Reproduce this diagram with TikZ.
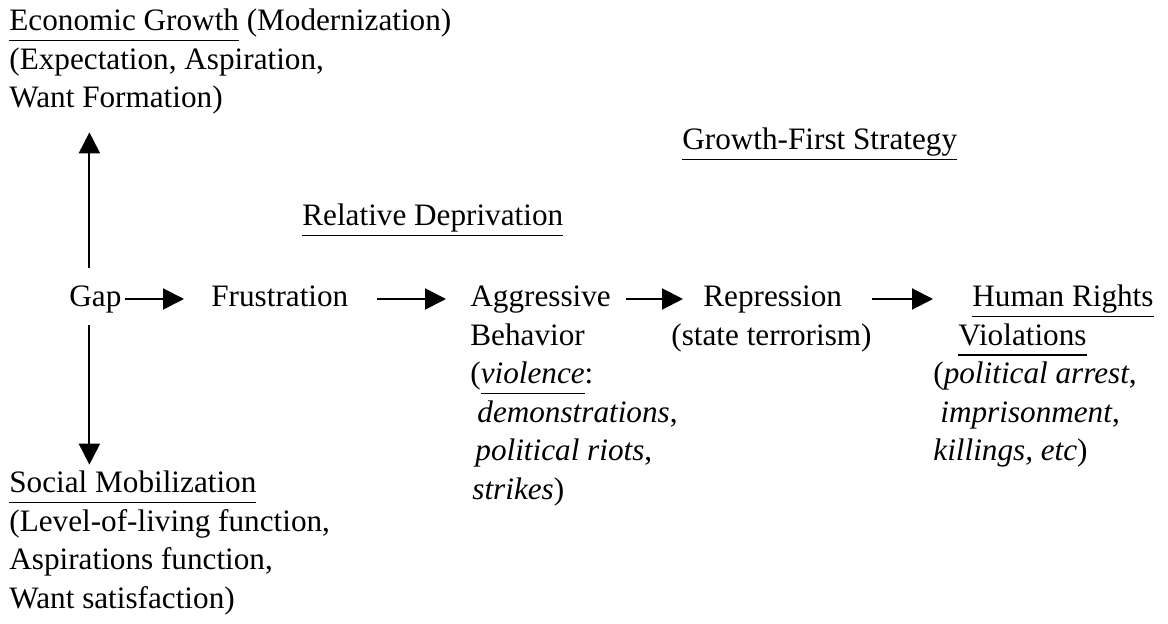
\documentclass[tikz,border=0pt]{standalone}
\usepackage{fontspec}
\setmainfont{Liberation Serif}
\usetikzlibrary{arrows.meta}

\newsavebox\ulbox
\newcommand\undl[1]{\sbox\ulbox{#1}\rlap{\rule[-5.2pt]{\wd\ulbox}{0.9pt}}\usebox\ulbox}
\newcommand\txtblock[1]{\begin{tabular}[t]{@{}l@{}}#1\end{tabular}}

\tikzset{
  txt/.style={inner sep=0pt, anchor=base west, font=\fontsize{15.6}{19.25}\selectfont},
  arr/.style={line width=1pt, -{Triangle[length=10.5pt,width=10.5pt]}}
}

\begin{document}
\begin{tikzpicture}[x=0.5pt, y=-0.5pt]
    \useasboundingbox (0,0) rectangle (1168,624);

    % Left column
    \node[txt] (econ) at (9,31) {\txtblock{\undl{Economic Growth} (Modernization)\\(Expectation, Aspiration,\\Want Formation)}};
    \node[txt] (gap) at (69,307) {Gap};
    \node[txt] (soc) at (9,493) {\txtblock{\undl{Social Mobilization}\\(Level-of-living function,\\Aspirations function,\\Want satisfaction)}};

    % Headings
    \node[txt] (growth) at (682,150) {\undl{Growth-First Strategy}};
    \node[txt] (depr) at (302,226) {\undl{Relative Deprivation}};

    % Main chain
    \node[txt] (frus) at (211,307) {Frustration};
    \node[txt] (aggr) at (470,307) {Aggressive};
    \node[txt] (repr) at (703,307) {Repression};
    \node[txt] (hr) at (972,307) {\undl{Human Rights}};

    % Details under the chain
    \node[txt] (aggrd) at (470,345.5) {\txtblock{Behavior\\(\undl{\textit{violence}}:\\\hspace{3.5pt}\textit{demonstrations},\\\hspace{2.5pt}\textit{political riots},\\\hspace{1pt}\textit{strikes})}};
    \node[txt] (reprd) at (671,345.5) {(state terrorism)};
    \node[txt] (hrd) at (933,345.5) {\txtblock{\hspace{12.5pt}\undl{Violations}\\(\textit{political arrest},\\\hspace{3.5pt}\textit{imprisonment},\\\textit{killings, etc})}};

    % Vertical arrows
    \draw[arr, shorten >=6.2pt] ([xshift=-3pt,yshift=9pt]gap.north) -- ([xshift=-3pt]gap.north |- econ.south);
    \draw[arr, shorten >=0.5pt] ([xshift=-3pt,yshift=-5.5pt]gap.south) -- ([xshift=-3pt]gap.south |- soc.north);

    % Horizontal arrows
    \draw[arr, shorten <=1.5pt, shorten >=13.5pt] ([yshift=4pt]gap.base east) -- ([yshift=4pt]frus.base west);
    \draw[arr, shorten <=14pt, shorten >=12pt] ([yshift=4pt]frus.base east) -- ([yshift=4pt]aggr.base west);
    \draw[arr, shorten <=7.5pt, shorten >=10pt] ([yshift=4pt]aggr.base east) -- ([yshift=4pt]repr.base west);
    \draw[arr, shorten <=15pt, shorten >=19.5pt] ([yshift=4pt]repr.base east) -- ([yshift=4pt]hr.base west);
\end{tikzpicture}
\end{document}
